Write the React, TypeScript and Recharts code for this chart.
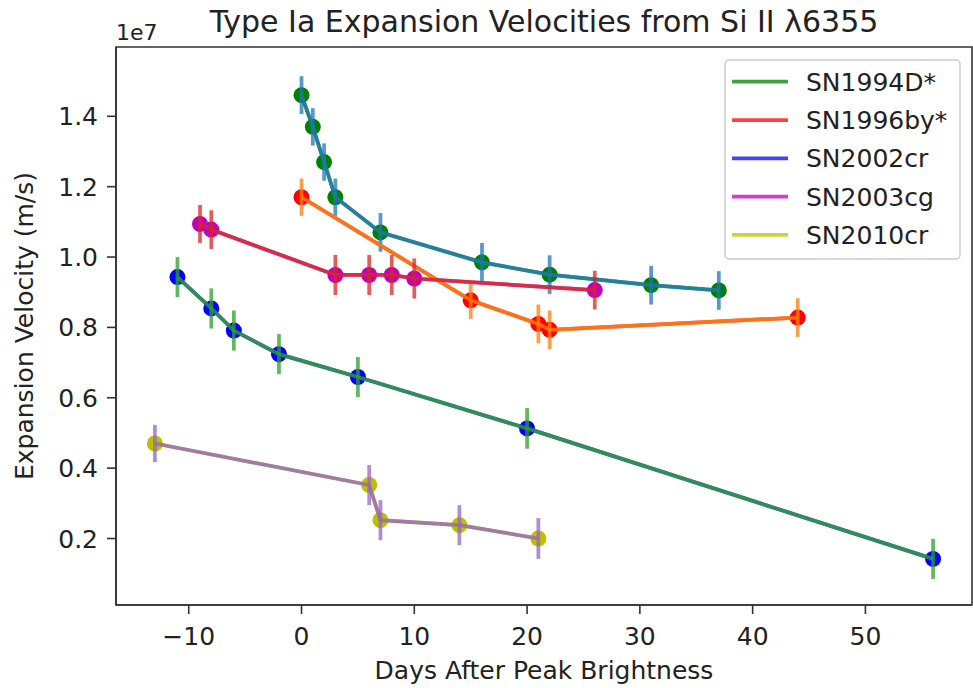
import React from "react";
import {
  ComposedChart,
  Line,
  XAxis,
  YAxis,
  ErrorBar,
  ReferenceArea,
} from "recharts";

const FONT = '"DejaVu Sans", "Liberation Sans", sans-serif';
const TEXT = "#222222";
const SPINE = "#333333";

// days after peak; velocities and errors in units of 1e7 m/s
const days1994D = [0, 1, 2, 3, 7, 16, 22, 31, 37];
const vel1994D = [1.46, 1.37, 1.27, 1.17, 1.07, 0.985, 0.95, 0.92, 0.905];
const err1994D = [0.054, 0.053, 0.053, 0.053, 0.055, 0.055, 0.055, 0.055, 0.055];

const days1996by = [0, 15, 21, 22, 44];
const vel1996by = [1.17, 0.877, 0.81, 0.793, 0.828];
const err1996by = [0.053, 0.053, 0.055, 0.055, 0.055];

const days2002cr = [-11, -8, -6, -2, 5, 20, 56];
const vel2002cr = [0.943, 0.854, 0.791, 0.724, 0.659, 0.513, 0.142];
const err2002cr = [0.057, 0.057, 0.057, 0.057, 0.057, 0.058, 0.057];

const days2003cg = [-9, -8, 3, 6, 8, 10, 26];
const vel2003cg = [1.094, 1.078, 0.949, 0.949, 0.949, 0.939, 0.906];
const err2003cg = [0.054, 0.055, 0.057, 0.057, 0.057, 0.057, 0.055];

const days2010cr = [-13, 6, 7, 14, 21];
const vel2010cr = [0.47, 0.352, 0.252, 0.238, 0.2];
const err2010cr = [0.053, 0.057, 0.057, 0.057, 0.058];

const xTicks = [-10, 0, 10, 20, 30, 40, 50];
const yTicks = [0.2, 0.4, 0.6, 0.8, 1.0, 1.2, 1.4];
const X_DOMAIN: [number, number] = [-16.45, 59.45];
const Y_DOMAIN: [number, number] = [0.011, 1.597];

const series = [
  { name: "SN1994D*", days: days1994D, vel: vel1994D, err: err1994D, marker: "#008000", faded: "#40a040", fit: "#1f77b4" },
  { name: "SN1996by*", days: days1996by, vel: vel1996by, err: err1996by, marker: "#ff0000", faded: "#ff4040", fit: "#ff7f0e" },
  { name: "SN2002cr", days: days2002cr, vel: vel2002cr, err: err2002cr, marker: "#0000ff", faded: "#4040ff", fit: "#2ca02c" },
  { name: "SN2003cg", days: days2003cg, vel: vel2003cg, err: err2003cg, marker: "#bf00bf", faded: "#cf40cf", fit: "#d62728" },
  { name: "SN2010cr", days: days2010cr, vel: vel2010cr, err: err2010cr, marker: "#bfbf00", faded: "#cfcf40", fit: "#9467bd" },
];

const fmtX = (v: number) => (v < 0 ? `\u2212${Math.abs(v)}` : `${v}`);

const XTick = (props: any) => (
  <text x={props.x} y={645} textAnchor="middle" fontSize={25} fill={TEXT} fontFamily={FONT}>
    {fmtX(props.payload.value)}
  </text>
);

const YTick = (props: any) => (
  <text x={98} y={props.y + 9} textAnchor="end" fontSize={25} fill={TEXT} fontFamily={FONT}>
    {Number(props.payload.value).toFixed(1)}
  </text>
);

const YLabel = (props: any) => {
  const vb = props.viewBox || { y: 47, height: 558 };
  const cy = vb.y + vb.height / 2;
  return (
    <text x={33} y={cy} transform={`rotate(-90 33 ${cy})`} textAnchor="middle" fontSize={25} fill={TEXT} fontFamily={FONT}>
      Expansion Velocity (m/s)
    </text>
  );
};

const XLabel = (props: any) => {
  const vb = props.viewBox || { x: 116, width: 856 };
  return (
    <text x={vb.x + vb.width / 2} y={679} textAnchor="middle" fontSize={25} fill={TEXT} fontFamily={FONT}>
      Days After Peak Brightness
    </text>
  );
};

export default function App() {
  return (
    <div style={{ position: "absolute", left: 0, top: 0, width: 973, height: 688, background: "#fff" }}>
      <ComposedChart width={973} height={688} margin={{ top: 47, right: 1, bottom: 0, left: 0 }}>
        <XAxis
          type="number"
          dataKey="day"
          domain={X_DOMAIN}
          ticks={xTicks}
          allowDataOverflow
          height={83}
          tickSize={9}
          axisLine={{ stroke: SPINE, strokeWidth: 1.6 }}
          tickLine={{ stroke: SPINE, strokeWidth: 1.6 }}
          tick={<XTick />}
          label={{ content: <XLabel /> }}
        />
        <YAxis
          type="number"
          domain={Y_DOMAIN}
          ticks={yTicks}
          allowDataOverflow
          width={116}
          tickSize={9}
          axisLine={{ stroke: SPINE, strokeWidth: 1.6 }}
          tickLine={{ stroke: SPINE, strokeWidth: 1.6 }}
          tick={<YTick />}
          label={{ content: <YLabel /> }}
        />
        <ReferenceArea
          x1={X_DOMAIN[0]}
          x2={X_DOMAIN[1]}
          y1={Y_DOMAIN[0]}
          y2={Y_DOMAIN[1]}
          fill="none"
          stroke={SPINE}
          strokeWidth={1.6}
        />
        {series.flatMap((s, k) => {
          const data = s.days.map((d, i) => ({ day: d, v: s.vel[i], err: s.err[i] }));
          return [
            <Line
              key={s.name + "-pts"}
              data={data}
              dataKey="v"
              type="linear"
              stroke={s.marker}
              strokeOpacity={0.75}
              strokeWidth={3.75}
              dot={{ r: 8, fill: s.marker, stroke: "none", fillOpacity: 1 }}
              activeDot={false}
              isAnimationActive={false}
            />,
            <Line
              key={s.name + "-fit"}
              data={data}
              dataKey="v"
              type="linear"
              stroke={s.fit}
              strokeOpacity={0.8}
              strokeWidth={3.75}
              dot={false}
              activeDot={false}
              isAnimationActive={false}
              zIndex={1000 + k}
            >
              <ErrorBar
                dataKey="err"
                direction="y"
                width={0}
                stroke={s.fit}
                strokeWidth={3.75}
                strokeOpacity={0.75}
                zIndex={1000 + k}
              />
            </Line>,
          ];
        })}
      </ComposedChart>
      <svg
        width={973}
        height={688}
        style={{ position: "absolute", left: 0, top: 0, pointerEvents: "none" }}
        fontFamily={FONT}
      >
        <text x={544} y={32} textAnchor="middle" fontSize={30} fill={TEXT}>
          Type Ia Expansion Velocities from Si II λ6355
        </text>
        <text x={116} y={40} fontSize={22} fill={TEXT}>
          1e7
        </text>
        <rect x={725} y={60} width={235} height={199} rx={4} fill="#fff" fillOpacity={0.8} stroke="#cccccc" strokeWidth={1.5} />
        {series.map((s, i) => {
          const cy = 81.7 + i * 38.3;
          return (
            <g key={s.name}>
              <line x1={732} x2={788} y1={cy} y2={cy} stroke={s.faded} strokeWidth={3.75} />
              <text x={806} y={cy + 9} fontSize={25} fill={TEXT}>
                {s.name}
              </text>
            </g>
          );
        })}
      </svg>
    </div>
  );
}
